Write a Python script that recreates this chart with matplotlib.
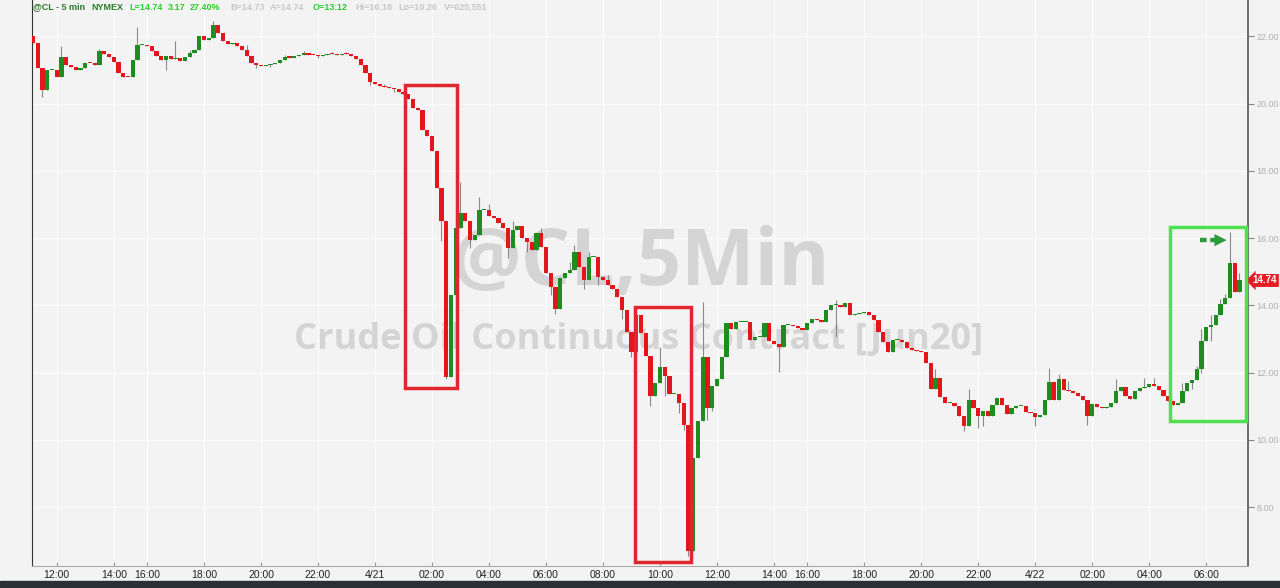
import numpy as np
import pandas as pd
import matplotlib
matplotlib.use('Agg')
import matplotlib.pyplot as plt
from matplotlib.patches import Rectangle

# 10-minute bars (Pacific time), CME break 14:00-15:00
first_open = 22.00
closes = [
    21.80, 21.05, 20.40, 21.00, 21.00, 20.80, 21.39, 21.15, 21.10, 21.00,
    21.05, 21.22, 21.20, 21.14, 21.55, 21.47, 21.38, 21.25, 20.90, 20.80,
    20.78, 21.30, 21.74, 21.75, 21.72, 21.55, 21.42, 21.30, 21.40, 21.32,
    21.37, 21.28, 21.38, 21.50, 21.60, 22.00, 21.90, 21.95, 22.33, 22.10,
    21.85, 21.78, 21.80, 21.72, 21.60, 21.40, 21.22, 21.15, 21.12, 21.15,
    21.18, 21.22, 21.30, 21.38, 21.37, 21.42, 21.45, 21.49, 21.45, 21.43,
    21.40, 21.44, 21.47, 21.46, 21.43, 21.47, 21.46, 21.40, 21.33, 21.15,
    20.90, 20.65, 20.58, 20.53, 20.50, 20.45, 20.42, 20.35, 20.28, 20.15,
    19.88, 19.80, 19.20, 19.05, 18.60, 17.50, 16.50, 11.88, 14.30, 16.30,
    16.74, 16.50, 15.95, 16.10, 16.85, 16.85, 16.65, 16.60, 16.45, 16.30,
    15.70, 16.25, 16.35, 16.00, 15.88, 15.65, 16.15, 15.75, 14.95, 14.55,
    13.90, 14.80, 14.95, 15.05, 15.60, 15.15, 14.75, 15.44, 15.45, 14.85,
    14.75, 14.60, 14.48, 14.25, 13.85, 13.20, 12.60, 13.70, 13.17, 12.50,
    11.30, 11.70, 12.18, 11.90, 11.35, 11.35, 11.10, 10.44, 6.70, 9.45,
    10.55, 12.45, 10.95, 11.60, 11.80, 12.45, 13.47, 13.30, 13.50, 13.50,
    13.50, 12.97, 13.07, 13.07, 13.47, 12.95, 12.85, 12.77, 13.42, 13.42,
    13.40, 13.32, 13.27, 13.47, 13.60, 13.55, 13.50, 13.86, 14.00, 14.02,
    13.96, 14.06, 13.71, 13.75, 13.76, 13.81, 13.71, 13.56, 13.20, 12.90,
    12.62, 12.97, 12.97, 12.92, 12.72, 12.67, 12.63, 12.62, 12.30, 11.50,
    11.83, 11.28, 11.10, 11.10, 11.00, 10.70, 10.40, 11.20, 10.95, 10.70,
    10.85, 10.70, 11.05, 11.25, 11.05, 10.78, 10.95, 11.00, 11.02, 10.82,
    10.79, 10.69, 10.75, 11.20, 11.73, 11.20, 11.80, 11.47, 11.44, 11.40,
    11.30, 11.20, 10.70, 11.08, 10.99, 10.95, 10.97, 11.10, 11.45, 11.58,
    11.30, 11.23, 11.44, 11.53, 11.57, 11.65, 11.60, 11.48, 11.30, 11.15,
    11.05, 11.10, 11.45, 11.70, 11.78, 12.10, 12.95, 13.36, 13.42, 13.70,
    14.05, 14.21, 15.25, 14.40, 14.74,
]

# visible wicks (bar -> price)
wick_hi = {6: 21.70, 14: 21.62, 22: 22.27, 30: 21.85, 33: 21.60, 38: 22.45, 45: 21.75,
           53: 21.45, 57: 21.55, 63: 21.52, 66: 21.52, 74: 20.58, 78: 20.38,
           89: 16.60, 90: 17.67, 94: 17.23, 96: 17.00, 101: 16.50, 107: 16.30,
           113: 15.30, 114: 15.80, 117: 15.60, 121: 14.90, 127: 13.90, 132: 12.77,
           141: 14.10, 169: 14.15, 190: 12.10, 197: 11.50, 214: 12.13, 216: 11.95,
           218: 11.75, 228: 11.80, 234: 11.85, 236: 11.85, 242: 11.70, 245: 12.20,
           246: 13.30, 248: 13.70, 250: 14.20, 251: 14.35, 252: 16.18, 253: 14.90,
           254: 14.95}
wick_lo = {2: 20.20, 28: 21.00, 47: 21.05, 50: 21.10, 60: 21.35, 71: 20.55, 76: 20.35,
           86: 15.90, 87: 11.80, 92: 15.70, 100: 15.40,
           104: 15.60, 109: 14.30, 110: 13.75, 116: 14.50, 119: 14.60, 124: 13.60,
           126: 12.45, 130: 11.00, 133: 11.30, 136: 10.80, 137: 10.30, 138: 6.55,
           142: 10.60, 143: 10.85, 157: 12.03, 169: 13.05, 196: 10.26, 199: 10.35,
           200: 10.40, 211: 10.40, 222: 10.45, 244: 11.50, 246: 12.00, 248: 12.95}

# header pieces: text, colour, gap in px after it
header = [('@CL - 5 min', '#2b7a2b', 6), ('NYMEX', '#2b7a2b', 6),
          ('L=14.74', '#2ccc2c', 5), ('3.17', '#2ccc2c', 5), ('27.40%', '#2ccc2c', 10),
          ('B=14.73', '#c8c8c8', 5), ('A=14.74', '#c8c8c8', 8),
          ('O=13.12', '#2ccc2c', 8), ('Hi=16.18', '#c8c8c8', 6),
          ('Lo=10.26', '#c8c8c8', 6), ('V=625,551', '#c8c8c8', 0)]

# highlight boxes: (bar from, bar to, price low, price high, colour)
boxes = [(78.3, 89.3, 11.55, 20.55, '#e0262e'),
         (126.7, 138.5, 6.38, 13.95, '#e0262e'),
         (239.4, 255.4, 10.56, 16.32, '#4ee04e')]

times = pd.DatetimeIndex(list(pd.date_range('2020-04-20 11:10', '2020-04-20 14:00', freq='10min'))
                         + list(pd.date_range('2020-04-20 15:00', '2020-04-21 14:00', freq='10min'))
                         + list(pd.date_range('2020-04-21 15:00', '2020-04-22 07:10', freq='10min')))

c = np.array(closes)
o = np.r_[first_open, c[:-1]]
x = np.arange(len(c))
hi = np.array([wick_hi.get(i, max(o[i], c[i])) for i in x])
lo = np.array([wick_lo.get(i, min(o[i], c[i])) for i in x])
up = c >= o

plt.rcParams['font.family'] = ['Liberation Sans', 'DejaVu Sans']

fig = plt.figure(figsize=(12.8, 5.88), dpi=100, facecolor='#f3f3f3')
ax = fig.add_axes([32 / 1280, 22 / 588, 1216 / 1280, 566 / 588])
ax.set_facecolor('#f3f3f3')

# watermark
ax.text(0.5, 0.532, '@CL,5Min', transform=ax.transAxes, ha='center', va='center',
        fontsize=56, fontweight='bold', family='Open Sans', color='#d4d4d4', zorder=1)
ax.text(0.499, 0.40, 'Crude Oil Continuous Contract [Jun20]', transform=ax.transAxes,
        ha='center', va='center', fontsize=26, fontweight='bold', family='Open Sans',
        color='#d4d4d4', zorder=1)

ax.vlines(x, lo, hi, color='#8a8a8a', lw=0.8, zorder=2)
body = np.maximum(np.abs(c - o), 0.03)
ax.bar(x, body, bottom=np.minimum(o, c), width=0.9,
       color=np.where(up, '#1f8c1f', '#e3161c'), linewidth=0, zorder=3)

for b0, b1, p0, p1, col in boxes:
    ax.add_patch(Rectangle((b0, p0), b1 - b0, p1 - p0, fill=False, ec=col, lw=2.5,
                           zorder=4, clip_on=False))

# dashed arrow to the high
ax.plot([245.7, 249.6], [15.94, 15.94], ls=(0, (1.5, 0.8)), lw=3.2, color='#2e9a3a',
        zorder=5, solid_capstyle='butt')
ax.annotate('', xy=(251.9, 15.94), xytext=(249.4, 15.94),
            arrowprops=dict(arrowstyle='-|>', color='#2e9a3a', lw=0, mutation_scale=22),
            zorder=5)

ax.set_xlim(-0.21, 255.8)
ax.set_ylim(6.25, 23.08)

tick_idx = [i for i, t in enumerate(times) if t.minute == 0 and t.hour % 2 == 0]
tick_lab = [f'{times[i].month}/{times[i].day}' if times[i].hour == 0
            else times[i].strftime('%H:%M') for i in tick_idx]
ax.set_xticks(tick_idx)
ax.set_xticklabels(tick_lab, fontsize=7.5, color='#222222')
ax.tick_params(axis='x', direction='in', length=3, color='#999999', pad=3)

ax.yaxis.tick_right()
ax.set_yticks(np.arange(8, 23, 2))
ax.set_yticklabels([f'{v:.2f}' for v in np.arange(8, 23, 2)], fontsize=6.5, color='#b0b0b0')
ax.tick_params(axis='y', length=4, color='#888888', pad=2)

ax.grid(True, color='#fbfbfb', lw=1.0, zorder=0)
ax.set_axisbelow(True)
ax.spines['top'].set_visible(False)
ax.spines['left'].set_color('#333333')
ax.spines['right'].set_color('#555555')
ax.spines['right'].set_linewidth(1.2)
ax.spines['bottom'].set_color('#aaaaaa')

# last price tag
ax.text(1.004, c[-1], f'{c[-1]:.2f}', transform=ax.get_yaxis_transform(), ha='left',
        va='center', fontsize=7, fontweight='bold', color='white',
        bbox=dict(boxstyle='larrow,pad=0.15', fc='#e51c23', ec='none'))

# header, laid out left to right
renderer = fig.canvas.get_renderer()
px = 33
for txt, col, gap in header:
    t = fig.text(px / 1280, 1 - 7 / 588, txt, fontsize=6.5, fontweight='bold', color=col,
                 ha='left', va='center')
    px += t.get_window_extent(renderer).width + gap

fig.add_artist(Rectangle((0, 0), 1, 7 / 588, transform=fig.transFigure,
                         color='#2b2f36', zorder=10))

fig.savefig('out.png', dpi=100, facecolor=fig.get_facecolor())
